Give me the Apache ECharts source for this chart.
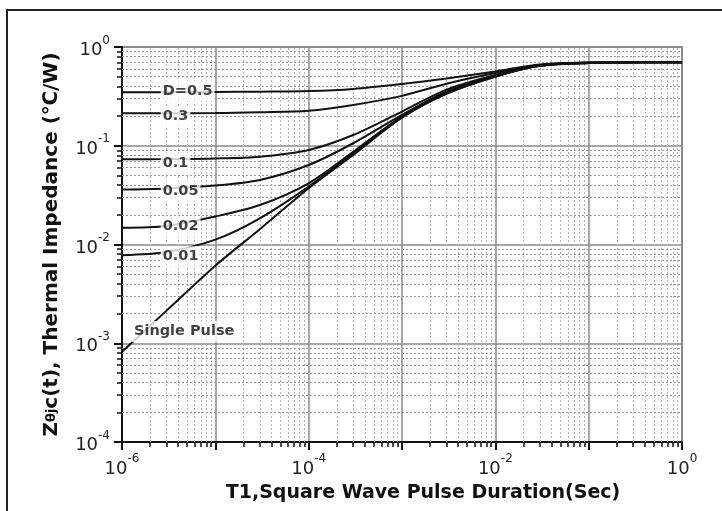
<!DOCTYPE html>
<html><head><meta charset="utf-8">
<script src="https://cdn.jsdelivr.net/npm/echarts@6/dist/echarts.min.js"></script>
<style>html,body{margin:0;padding:0;background:#fff}#c{width:722px;height:511px}</style>
</head><body><div id="c"></div>
<script>
// Pulse durations (s)
var pulseTimes = [1e-6, 3e-6, 1e-5, 3e-5, 1e-4, 3e-4, 1e-3, 3e-3, 1e-2, 3e-2, 1e-1, 3e-1, 1];
// Thermal impedance (°C/W) per duty cycle
var zD05   = [0.348, 0.349, 0.350, 0.353, 0.358, 0.376, 0.422, 0.480, 0.565, 0.665, 0.697, 0.700, 0.700];
var zD03   = [0.213, 0.2135, 0.214, 0.218, 0.226, 0.259, 0.320, 0.425, 0.545, 0.657, 0.695, 0.700, 0.700];
var zD01   = [0.073, 0.0733, 0.0743, 0.0775, 0.0906, 0.1285, 0.222, 0.370, 0.520, 0.652, 0.692, 0.700, 0.700];
var zD005  = [0.036, 0.037, 0.0395, 0.045, 0.0638, 0.106, 0.205, 0.355, 0.512, 0.648, 0.690, 0.700, 0.700];
var zD002  = [0.0148, 0.0154, 0.0192, 0.0251, 0.0417, 0.087, 0.199, 0.345, 0.507, 0.646, 0.690, 0.700, 0.700];
var zD001  = [0.0078, 0.0084, 0.0112, 0.0184, 0.0385, 0.0839, 0.195, 0.340, 0.503, 0.645, 0.690, 0.700, 0.700];
var zSingle= [0.00082, 0.00214, 0.0061, 0.0143, 0.0371, 0.0806, 0.192, 0.335, 0.500, 0.644, 0.690, 0.700, 0.700];

// Curve labels: [time, impedance, text]
var curveLabels = [
  [2.6e-6, 0.358, 'D=0.5'],
  [2.6e-6, 0.197, '0.3'],
  [2.6e-6, 0.0669, '0.1'],
  [2.6e-6, 0.0348, '0.05'],
  [2.6e-6, 0.0152, '0.02'],
  [2.6e-6, 0.00752, '0.01'],
  [1.28e-6, 0.001315, 'Single Pulse']
];

// Axis ranges and minor tick values
var xMin = 1e-6, xMax = 1, yMin = 1e-4, yMax = 1;
var xMinor = [], yMinor = [];
for (var d = -6; d < 0; d++) for (var m = 2; m <= 9; m++) xMinor.push(m * Math.pow(10, d));
for (var d2 = -4; d2 < 0; d2++) for (var m2 = 2; m2 <= 9; m2++) yMinor.push(m2 * Math.pow(10, d2));

var FONT = 'DejaVu Sans';
function powLabel(v) {
  var e = Math.round(Math.log10(v));
  return '{b|10}{s|' + e + '}';
}
function powLabelEven(v) {
  var e = Math.round(Math.log10(v));
  return (e % 2 === 0) ? '{b|10}{s|' + e + '}' : '';
}
var labelRich = {
  b: {fontSize: 18, fontFamily: FONT, color: '#222', verticalAlign: 'bottom'},
  s: {fontSize: 12, fontFamily: FONT, color: '#222', verticalAlign: 'bottom', padding: [0, 0, 13, 0]}
};

function curve(name, arr) {
  return {
    name: name, type: 'line', xAxisIndex: 0, yAxisIndex: 0,
    data: pulseTimes.map(function (t, i) { return [t, arr[i]]; }),
    showSymbol: false, smooth: 0.3,
    lineStyle: {color: '#111', width: 2}, z: 3, silent: true
  };
}

var vMinorLines = xMinor.map(function (v) { return {coords: [[v, yMin], [v, yMax]]}; });
var hMinorLines = yMinor.map(function (v) { return {coords: [[xMin, v], [xMax, v]]}; });

var option = {
  animation: false,
  backgroundColor: '#fff',
  grid: {left: 122, top: 47, right: 40, bottom: 69, show: true, borderColor: '#666', borderWidth: 1.5},
  graphic: [{
    type: 'rect', shape: {x: 7, y: 10, width: 740, height: 540},
    style: {fill: 'none', stroke: '#222', lineWidth: 2}, silent: true
  }],
  xAxis: [{
    type: 'log', logBase: 10, min: xMin, max: xMax, interval: 1, position: 'bottom',
    axisLine: {show: true, onZero: false, lineStyle: {color: '#111', width: 2}},
    axisTick: {show: true, inside: false, length: 8, lineStyle: {color: '#111', width: 2}},
    axisLabel: {formatter: powLabelEven, rich: labelRich, margin: 11},
    splitLine: {show: true, lineStyle: {color: '#8a8a8a', width: 1.5}},
    name: 'T1,Square Wave Pulse Duration(Sec)', nameLocation: 'middle', nameGap: 42,
    nameTextStyle: {fontFamily: FONT, fontSize: 19, fontWeight: 'bold', color: '#111', padding: [0, 0, 0, 42]}
  }, {
    type: 'log', logBase: 10, min: xMin, max: xMax, position: 'bottom',
    axisLine: {show: false}, axisLabel: {show: false}, splitLine: {show: false},
    axisTick: {show: true, inside: false, length: 5, customValues: xMinor, lineStyle: {color: '#111', width: 1.5}}
  }],
  yAxis: [{
    type: 'log', logBase: 10, min: yMin, max: yMax, interval: 1, position: 'left',
    axisLine: {show: true, onZero: false, lineStyle: {color: '#111', width: 2}},
    axisTick: {show: true, inside: false, length: 8, lineStyle: {color: '#111', width: 2}},
    axisLabel: {formatter: powLabel, rich: labelRich, margin: 12},
    splitLine: {show: true, lineStyle: {color: '#8a8a8a', width: 1.5}},
    name: 'Z{t|θj}c(t), Thermal Impedance (℃/W)', nameLocation: 'middle', nameGap: 60, nameRotate: 90,
    nameTextStyle: {fontFamily: FONT, fontSize: 20, fontWeight: 'bold', color: '#111',
      rich: {t: {fontFamily: FONT, fontSize: 13, fontWeight: 'bold', color: '#111'}}}
  }, {
    type: 'log', logBase: 10, min: yMin, max: yMax, position: 'left',
    axisLine: {show: false}, axisLabel: {show: false}, splitLine: {show: false},
    axisTick: {show: true, inside: false, length: 5, customValues: yMinor, lineStyle: {color: '#111', width: 1.5}}
  }],
  series: [
    {
      name: 'vMinor', type: 'lines', coordinateSystem: 'cartesian2d', xAxisIndex: 0, yAxisIndex: 0,
      data: vMinorLines, silent: true, z: 1, polyline: false,
      lineStyle: {type: [2, 2], color: '#b5b5b5', width: 1, opacity: 1}
    },
    {
      name: 'hMinor', type: 'lines', coordinateSystem: 'cartesian2d', xAxisIndex: 0, yAxisIndex: 0,
      data: hMinorLines, silent: true, z: 1, polyline: false,
      lineStyle: {type: [2, 2], color: '#999', width: 1, opacity: 1}
    },
    curve('D=0.5', zD05), curve('0.3', zD03), curve('0.1', zD01), curve('0.05', zD005),
    curve('0.02', zD002), curve('0.01', zD001), curve('Single Pulse', zSingle),
    {
      name: 'labels', type: 'scatter', xAxisIndex: 0, yAxisIndex: 0, symbolSize: 0, z: 5, silent: true,
      data: curveLabels.map(function (p) { return {value: [p[0], p[1]], name: p[2]}; }),
      label: {show: true, position: 'right', distance: 0, formatter: function (p) { return p.name; },
        fontFamily: FONT, fontSize: 14.5, fontWeight: 'bold', color: '#111',
        backgroundColor: '#fff', padding: [3, 2, 3, 2]}
    }
  ]
};
echarts.init(document.getElementById('c'), null, {renderer: 'canvas'}).setOption(option);
</script></body></html>
